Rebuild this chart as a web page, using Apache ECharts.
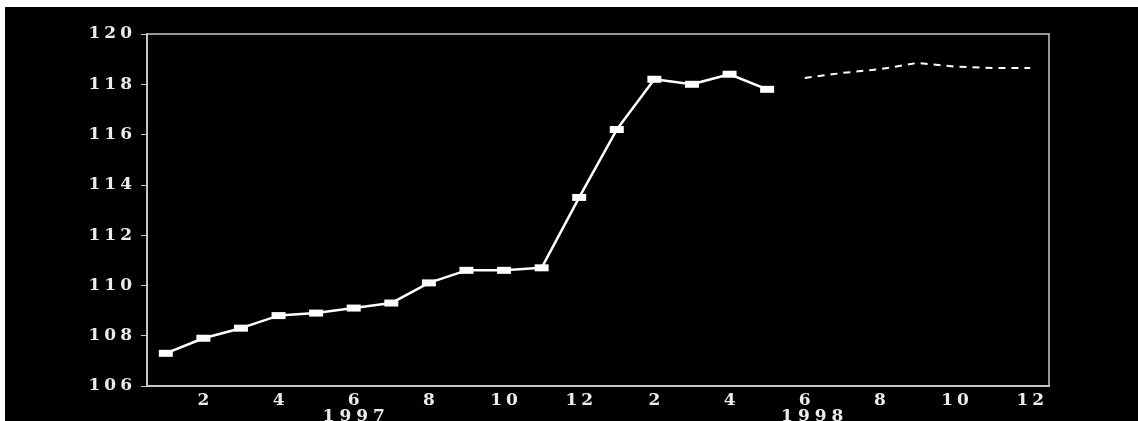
<!DOCTYPE html>
<html>
<head>
<meta charset="utf-8">
<script src="https://cdn.jsdelivr.net/npm/echarts@6/dist/echarts.min.js"></script>
<style>
html,body{margin:0;padding:0;background:#fff;width:1138px;height:421px;overflow:hidden;}
#c{position:absolute;left:5px;top:7px;width:1133px;height:414px;background:#000;}
</style>
</head>
<body>
<div id="c"></div>
<script>
const years = ['1997','1997','1997','1997','1997','1997','1997','1997','1997','1997','1997','1997',
               '1998','1998','1998','1998','1998','1998','1998','1998','1998','1998','1998','1998'];
const months = [1,2,3,4,5,6,7,8,9,10,11,12,1,2,3,4,5,6,7,8,9,10,11,12];
const actual = [107.3,107.9,108.3,108.8,108.9,109.1,109.3,110.1,110.6,110.6,110.7,113.5,
                116.2,118.2,118.0,118.4,117.8,null,null,null,null,null,null,null];
const forecast = [null,null,null,null,null,null,null,null,null,null,null,null,
                  null,null,null,null,null,118.25,118.45,118.6,118.85,118.7,118.65,118.65];
const yTicks = {min:106, max:120, step:2};
const yearLabels = {5:'1997', 17:'1998'};

const categories = years.map((y,i)=> y + '-' + months[i]);
const font = 'DejaVu Serif';
const axisCol = '#c8c8c8';
const txtCol = '#ececec';

// wide-spaced digits: each character drawn as its own padded rich token
function spaced(s, key){ return String(s).split('').map(ch => '{' + key + '|' + ch + '}').join(''); }

const digitStyle = {padding:[0,2,0,2], color:txtCol, fontFamily:font, fontSize:17, fontWeight:'bold'};

const chart = echarts.init(document.getElementById('c'), null, {renderer:'canvas'});
chart.setOption({
  backgroundColor:'#000',
  animation:false,
  grid:{left:142, top:27, right:89, bottom:35, outerBoundsMode:'none', containLabel:false,
        show:true, borderColor:axisCol, borderWidth:1.5, backgroundColor:'transparent'},
  xAxis:[{
    type:'category', data:categories, boundaryGap:true, position:'bottom',
    axisLine:{lineStyle:{color:axisCol, width:2}},
    axisTick:{alignWithLabel:true, interval:0, length:5, lineStyle:{color:axisCol}},
    axisLabel:{interval:(i)=> i%2===1, formatter:(v)=> spaced(v.split('-')[1], 'd'),
      color:txtCol, fontFamily:font, fontSize:17, fontWeight:'bold', margin:6,
      rich:{d:digitStyle}},
    splitLine:{show:false}
  },{
    type:'category', data:categories, boundaryGap:true, position:'bottom', offset:19,
    axisLine:{show:false}, axisTick:{show:false},
    axisLabel:{interval:0, formatter:(v,i)=> yearLabels[i] ? ((i===17 ? '{p|}' : '') + spaced(yearLabels[i], 'y')) : '',
      color:txtCol, fontFamily:font, fontSize:17, fontWeight:'bold', margin:3,
      rich:{y:{padding:[0,2.5,0,2.5], color:txtCol, fontFamily:font, fontSize:17, fontWeight:'bold'},
            p:{width:15}}},
    splitLine:{show:false}
  }],
  yAxis:{
    type:'value', min:yTicks.min, max:yTicks.max, interval:yTicks.step,
    axisLine:{show:true, lineStyle:{color:axisCol, width:2}},
    axisTick:{show:true, length:6, lineStyle:{color:axisCol}},
    axisLabel:{formatter:(v)=> spaced(v, 'd'), color:txtCol, fontFamily:font, fontSize:17, fontWeight:'bold', margin:13,
      rich:{d:digitStyle}},
    splitLine:{show:false}
  },
  series:[{
    type:'line', data:actual, xAxisIndex:0,
    symbol:'rect', symbolSize:[14,7], showSymbol:true,
    itemStyle:{color:'#fff', borderWidth:0},
    lineStyle:{color:'#fff', width:2.5}
  },{
    type:'line', data:forecast, xAxisIndex:0,
    symbol:'none', showSymbol:false,
    lineStyle:{color:'#fff', width:2, type:[7,6]}
  }]
});
</script>
</body>
</html>
